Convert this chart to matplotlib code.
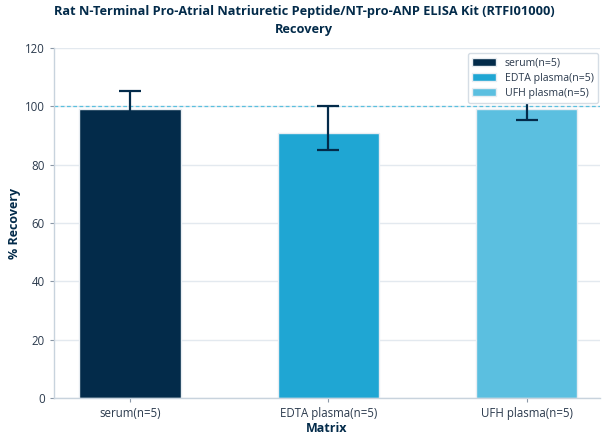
"""Rat NT-proANP ELISA kit recovery by sample matrix."""

import matplotlib

matplotlib.use("Agg")
import matplotlib.pyplot as plt
import numpy as np

plt.rcParams["font.family"] = ["Open Sans", "Noto Sans", "DejaVu Sans"]

matrices = ["serum(n=5)", "EDTA plasma(n=5)", "UFH plasma(n=5)"]
recovery = [98.9, 90.7, 98.9]
err_low = [6.3, 5.8, 3.8]
err_high = [6.3, 9.3, 3.8]
colors = ["#032b4a", "#1fa6d3", "#5bbfe0"]

NAVY = "#032b4a"
TEXT = "#2b3a4d"


def main() -> None:
    fig = plt.figure(figsize=(6.08, 4.44), dpi=100)
    ax = fig.add_axes([0.0888, 0.103, 0.898, 0.7896])

    xs = np.arange(len(matrices))
    bars = ax.bar(xs, recovery, width=0.51, color=colors, edgecolor="#e8edf2",
                  linewidth=1.0, label=matrices, zorder=2)
    ax.errorbar(xs, recovery, yerr=[err_low, err_high], fmt="none", ecolor=NAVY,
                elinewidth=1.6, capsize=8, capthick=1.6, zorder=3)
    ax.axhline(100, color="#5bc0de", linestyle=(0, (3, 2)), linewidth=0.9, zorder=1)

    ax.set_xlim(-0.383, 2.37)
    ax.set_ylim(0, 120)
    ax.set_yticks(range(0, 121, 20))
    ax.set_xticks(xs)
    ax.set_xticklabels(matrices)
    ax.yaxis.grid(True, color="#e3e9ef", linewidth=1.0, zorder=0)
    ax.set_axisbelow(True)
    for side in ("top", "right"):
        ax.spines[side].set_visible(False)
    for side in ("left", "bottom"):
        ax.spines[side].set_color("#c8d3dd")
        ax.spines[side].set_linewidth(1.0)
    ax.tick_params(colors=TEXT, labelsize=8.3, length=3, width=0.8)
    ax.tick_params(axis="both", color="#8a97a6")

    ax.set_xlabel("Matrix", fontsize=9, fontweight="bold", color=NAVY, labelpad=1)
    ax.set_ylabel("% Recovery", fontsize=9, fontweight="bold", color=NAVY, labelpad=3)
    fig.suptitle("Rat N-Terminal Pro-Atrial Natriuretic Peptide/NT-pro-ANP ELISA Kit (RTFI01000)\nRecovery",
                 x=0.5, y=0.988, va="top", fontsize=9.2, fontweight="bold", color=NAVY,
                 linespacing=1.5)

    leg = ax.legend(handles=bars, labels=matrices, loc="upper right", fontsize=7.6,
                    frameon=True, fancybox=True, framealpha=1.0, borderpad=0.4,
                    handlelength=2.3, handleheight=0.75, labelspacing=0.38,
                    borderaxespad=0.2, bbox_to_anchor=(1.0, 0.99))
    leg.get_frame().set_edgecolor("#d5dde5")
    leg.set_zorder(5)
    for t in leg.get_texts():
        t.set_color(TEXT)

    fig.savefig("out.png", dpi=100)
    plt.close(fig)


if __name__ == "__main__":
    main()
